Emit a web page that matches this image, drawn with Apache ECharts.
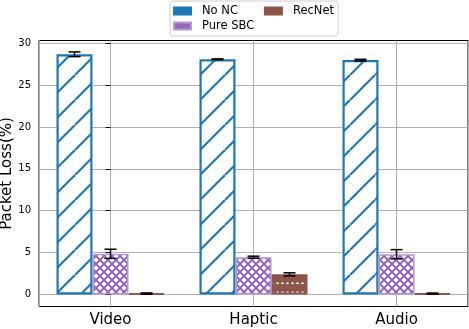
<!DOCTYPE html>
<html>
<head>
<meta charset="utf-8">
<script src="https://cdn.jsdelivr.net/npm/echarts@6/dist/echarts.min.js"></script>
<style>
  html, body { margin: 0; padding: 0; background: #fff; }
  #chart { width: 469px; height: 329px; }
</style>
</head>
<body>
<div id="chart"></div>
<script>
// data
var categories = ['Video', 'Haptic', 'Audio']
var noNC = [28.7, 28.1, 28.0]
var noNCErr = [0.28, 0.05, 0.1]
var pureSBC = [4.85, 4.45, 4.8]
var pureSBCErr = [0.55, 0.12, 0.55]
var recNet = [0.1, 2.4, 0.1]
var recNetErr = [0.08, 0.18, 0.06]
var yTicks = [0, 5, 10, 15, 20, 25, 30]

var FONT = 'DejaVu Sans'
var BAR_W = 36

// hatch patterns, drawn on small canvases
function tile(w, h, bg, draw) {
  var c = document.createElement('canvas')
  c.width = w
  c.height = h
  var ctx = c.getContext('2d')
  ctx.fillStyle = bg
  ctx.fillRect(0, 0, w, h)
  draw(ctx, w, h)
  return c
}
var slash = tile(25, 25, '#ffffff', function(ctx, w) {
  ctx.strokeStyle = '#1f77b4'
  ctx.lineWidth = 2.2
  ;[-w, 0, w].forEach(function(k) {
    ctx.beginPath()
    ctx.moveTo(k, w)
    ctx.lineTo(k + w, 0)
    ctx.stroke()
  })
})
var cross = tile(8, 8, '#ffffff', function(ctx, w) {
  ctx.strokeStyle = '#9467bd'
  ctx.lineWidth = 2
  ;[-w, 0, w].forEach(function(k) {
    ctx.beginPath()
    ctx.moveTo(k, w)
    ctx.lineTo(k + w, 0)
    ctx.moveTo(k, 0)
    ctx.lineTo(k + w, w)
    ctx.stroke()
  })
})
var dots = tile(5, 9, '#8c564b', function(ctx) {
  ctx.fillStyle = '#ffffff'
  ctx.fillRect(1.4, 3.5, 2.2, 1.6)
})

function errData(vals, errs, k) {
  return vals.map(function(v, i) {
    return [i, v, errs[i], k]
  })
}

var chart = echarts.init(document.getElementById('chart'))
var option = {
  animation: false,
  textStyle: { fontFamily: FONT },
  grid: {
    left: 39,
    right: 1,
    top: 40.5,
    bottom: 22.5,
    outerBoundsMode: 'none',
    containLabel: false,
    show: true,
    borderColor: '#000',
    borderWidth: 1
  },
  legend: {
    left: 170,
    top: 1,
    orient: 'horizontal',
    width: 170,
    itemWidth: 17,
    itemHeight: 7,
    itemGap: 1,
    icon: 'rect',
    padding: [3, 4, 3, 3],
    borderColor: '#cccccc',
    borderWidth: 1,
    borderRadius: 3,
    backgroundColor: 'rgba(255,255,255,0.8)',
    textStyle: { fontFamily: FONT, fontSize: 11.5, color: '#000', lineHeight: 14, padding: [0, 0, 0, 6] },
    data: [
      { name: 'No NC', itemStyle: { color: '#1f77b4', borderColor: '#1f77b4' }, textStyle: { padding: [0, 25, 0, 6] } },
      { name: 'RecNet', itemStyle: { color: '#8c564b', borderColor: '#8c564b' } },
      { name: 'Pure SBC', itemStyle: { color: '#9467bd', borderColor: '#b597d3' } }
    ]
  },
  xAxis: [
    {
      type: 'category',
      data: categories,
      axisLine: { show: false },
      axisTick: { alignWithLabel: true, length: 5, lineStyle: { color: '#000' } },
      axisLabel: { fontFamily: FONT, fontSize: 15, color: '#000', margin: 6 },
      splitLine: { show: false }
    },
    {
      // only for the vertical grid lines at the category centres
      type: 'value',
      position: 'bottom',
      min: -0.5,
      max: 2.5,
      splitNumber: 3,
      axisLine: { show: false },
      axisTick: { show: false },
      axisLabel: { show: false },
      splitLine: { show: true, lineStyle: { color: '#b0b0b0', width: 1 } }
    }
  ],
  yAxis: {
    type: 'value',
    min: -1.445,
    max: 30.345,
    name: 'Packet Loss(%)',
    nameLocation: 'middle',
    nameGap: 24,
    nameMoveOverlap: false,
    nameTextStyle: { fontFamily: FONT, fontSize: 15, color: '#000' },
    axisLine: { show: false },
    axisTick: { show: true, customValues: yTicks, length: 5, lineStyle: { color: '#000' } },
    axisLabel: { customValues: yTicks, fontFamily: FONT, fontSize: 10, color: '#000', margin: 8 },
    splitLine: { show: true, lineStyle: { color: '#b0b0b0', width: 1 } }
  },
  series: [
    {
      name: 'No NC',
      type: 'bar',
      barWidth: BAR_W,
      barGap: '0%',
      data: noNC,
      itemStyle: {
        color: { image: slash, repeat: 'repeat' },
        borderColor: '#1f77b4',
        borderWidth: 2.2
      }
    },
    {
      name: 'Pure SBC',
      type: 'bar',
      barWidth: BAR_W,
      barGap: '0%',
      data: pureSBC,
      itemStyle: {
        color: { image: cross, repeat: 'repeat' },
        borderColor: '#b597d3',
        borderWidth: 1.5
      }
    },
    {
      name: 'RecNet',
      type: 'bar',
      barWidth: BAR_W,
      barGap: '0%',
      data: recNet,
      itemStyle: {
        color: { image: dots, repeat: 'repeat' },
        borderColor: '#8c564b',
        borderWidth: 2
      }
    },
    {
      name: 'err',
      type: 'custom',
      z: 5,
      renderItem: function(params, api) {
        var i = api.value(0)
        var v = api.value(1)
        var e = api.value(2)
        var k = api.value(3)
        var c = api.coord([i, v])
        var x = c[0] + (k - 1) * BAR_W
        var top = api.coord([i, v + e])[1]
        var bot = api.coord([i, v - e])[1]
        var st = { stroke: '#000', lineWidth: 1.5 }
        return {
          type: 'group',
          children: [
            { type: 'line', shape: { x1: x, y1: top, x2: x, y2: bot }, style: st },
            { type: 'line', shape: { x1: x - 6, y1: top, x2: x + 6, y2: top }, style: st },
            { type: 'line', shape: { x1: x - 6, y1: bot, x2: x + 6, y2: bot }, style: st }
          ]
        }
      },
      data: errData(noNC, noNCErr, 0).concat(errData(pureSBC, pureSBCErr, 1), errData(recNet, recNetErr, 2))
    }
  ]
}
chart.setOption(option)
</script>
</body>
</html>
